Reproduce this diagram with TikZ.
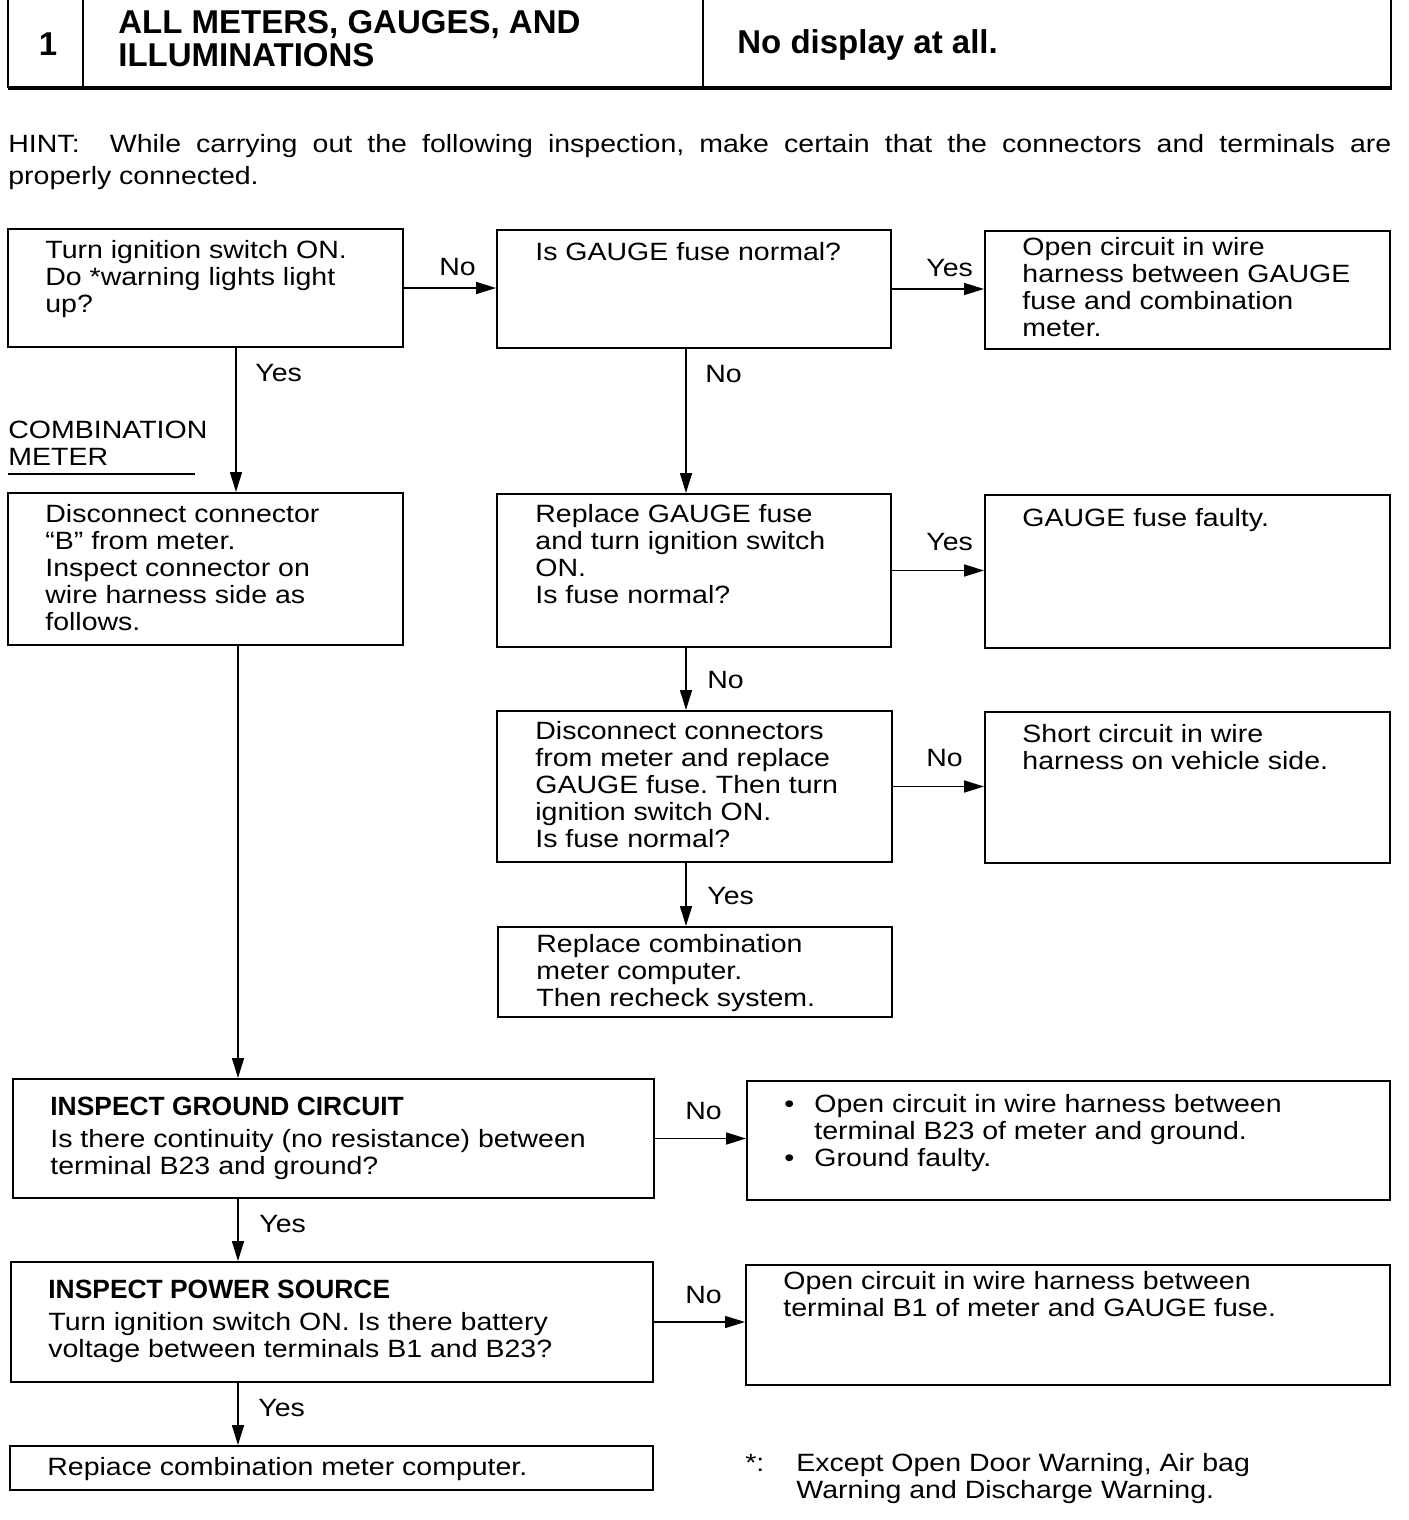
\documentclass[tikz,border=0pt]{standalone}
\usepackage{fontspec}
\setmainfont{Liberation Sans}[FakeStretch=1.14]
\newfontfamily\hdfont{Liberation Sans}
\usetikzlibrary{arrows.meta,fit}
\frenchspacing
\newcommand{\bodyf}{\fontsize{12.5}{13.5}\selectfont}
\newcommand{\ml}[1]{\begin{tabular}[t]{@{}l@{}}#1\end{tabular}}
\newcommand{\bul}{\makebox[15pt][l]{\textbullet}}
\newcommand{\nobul}{\makebox[15pt][l]{}}
\begin{document}
\begin{tikzpicture}[x=0.5pt,y=-0.5pt,
  box/.style={draw,line width=1pt,inner sep=0pt},
  txt/.style={inner sep=0pt,anchor=base west,font=\bodyf},
  hd/.style={inner sep=0pt,anchor=base west,font=\hdfont\bfseries\fontsize{16.5}{16.5}\selectfont},
  sub/.style={inner sep=0pt,anchor=base west,font=\hdfont\bfseries\fontsize{13.2}{13.2}\selectfont},
  arr/.style={line width=0.8pt,-{Triangle[length=10pt,width=6pt]}},
  rule/.style={line width=1pt}]
\useasboundingbox (0,0) rectangle (1408,1520);
\fill[white] (0,0) rectangle (1408,1520);

% header table
\draw[rule] (8,0) -- (8,88);
\draw[rule] (83,0) -- (83,88);
\draw[rule] (703,0) -- (703,88);
\draw[rule] (1391,0) -- (1391,88);
\draw[line width=1.6pt] (7.5,88) -- (1391.5,88);
\node[hd,anchor=base] (hnum) at (48,56) {1};
\node[hd] (htitle) at (118,34) {\ml{ALL METERS, GAUGES, AND\\ILLUMINATIONS}};
\node[hd] (hsym) at (737,54) {No display at all.};

% hint
\node[txt] (hint) at (8,152) {\parbox[t]{691.5pt}{\fontsize{12.5}{16.5}\selectfont
HINT:\ \ While carrying out the following inspection, make certain that the connectors and terminals are\linebreak properly connected.}};

% boxes
\node[box,fit={(8,229) (403,347)}] (A) {};
\node[box,fit={(497,230) (891,348)}] (B) {};
\node[box,fit={(985,231) (1390,349)}] (C) {};
\node[box,fit={(8,493) (403,645)}] (D) {};
\node[box,fit={(497,494) (891,647)}] (E) {};
\node[box,fit={(985,495) (1390,648)}] (F) {};
\node[box,fit={(497,711) (892,862)}] (G) {};
\node[box,fit={(985,712) (1390,863)}] (H) {};
\node[box,fit={(498,927) (892,1017)}] (I) {};
\node[box,fit={(13,1079) (654,1198)}] (J) {};
\node[box,fit={(747,1081) (1390,1200)}] (K) {};
\node[box,fit={(11,1262) (653,1382)}] (L) {};
\node[box,fit={(746,1265) (1390,1385)}] (M) {};
\node[box,fit={(10,1446) (653,1490)}] (N) {};

% box texts
\node[txt] (At) at (45,258) {\ml{Turn ignition switch ON.\\Do *warning lights light\\up?}};
\node[txt] (Bt) at (535,260) {Is GAUGE fuse normal?};
\node[txt] (Ct) at (1022,255) {\ml{Open circuit in wire\\harness between GAUGE\\fuse and combination\\meter.}};
\node[txt] (Dt) at (45,522) {\ml{Disconnect connector\\“B” from meter.\\Inspect connector on\\wire harness side as\\follows.}};
\node[txt] (Et) at (535,522) {\ml{Replace GAUGE fuse\\and turn ignition switch\\ON.\\Is fuse normal?}};
\node[txt] (Ft) at (1022,526) {GAUGE fuse faulty.};
\node[txt] (Gt) at (535,739) {\ml{Disconnect connectors\\from meter and replace\\GAUGE fuse. Then turn\\ignition switch ON.\\Is fuse normal?}};
\node[txt] (Ht) at (1022,742) {\ml{Short circuit in wire\\harness on vehicle side.}};
\node[txt] (It) at (536,952) {\ml{Replace combination\\meter computer.\\Then recheck system.}};
\node[sub] (Jh) at (50,1115) {INSPECT GROUND CIRCUIT};
\node[txt] (Jt) at (50,1147) {\ml{Is there continuity (no resistance) between\\terminal B23 and ground?}};
\node[txt] (Kt) at (784,1112) {\ml{\bul Open circuit in wire harness between\\\nobul terminal B23 of meter and ground.\\\bul Ground faulty.}};
\node[sub] (Lh) at (48,1298) {INSPECT POWER SOURCE};
\node[txt] (Lt) at (48,1330) {\ml{Turn ignition switch ON. Is there battery\\voltage between terminals B1 and B23?}};
\node[txt] (Mt) at (783,1289) {\ml{Open circuit in wire harness between\\terminal B1 of meter and GAUGE fuse.}};
\node[txt] (Nt) at (47,1475) {Repiace combination meter computer.};

% side label
\node[txt] (cm) at (8,438) {\ml{COMBINATION\\METER}};
\coordinate (u1) at (8,474);
\coordinate (u2) at (195,474);
\draw[line width=0.8pt] (u1) -- (u2);

% footnote
\node[txt] (fs) at (745,1471) {*:};
\node[txt] (ft) at (796,1471) {\ml{Except Open Door Warning, Air bag\\Warning and Discharge Warning.}};

% connector x positions
\coordinate (xa) at (236,0);
\coordinate (xb) at (686,0);
\coordinate (xd) at (238,0);

% connectors
\draw[arr] (A.east) -- (A.east -| B.west);
\draw[arr] (B.east) -- (B.east -| C.west);
\draw[arr] (E.east) -- (E.east -| F.west);
\draw[arr] (G.east) -- (G.east -| H.west);
\draw[arr] (J.east) -- (J.east -| K.west);
\draw[arr] (L.east) -- (L.east -| M.west);
\draw[arr] (A.south -| xa) -- (D.north -| xa);
\draw[arr] (B.south -| xb) -- (E.north -| xb);
\draw[arr] (E.south -| xb) -- (G.north -| xb);
\draw[arr] (G.south -| xb) -- (I.north -| xb);
\draw[arr] (D.south -| xd) -- (J.north -| xd);
\draw[arr] (J.south -| xd) -- (L.north -| xd);
\draw[arr] (L.south -| xd) -- (N.north -| xd);

% connector labels
\node[txt] (l1) at (439,275) {No};
\node[txt] (l2) at (926,276) {Yes};
\node[txt] (l3) at (255,381) {Yes};
\node[txt] (l4) at (705,382) {No};
\node[txt] (l5) at (926,550) {Yes};
\node[txt] (l6) at (707,688) {No};
\node[txt] (l7) at (926,766) {No};
\node[txt] (l8) at (707,904) {Yes};
\node[txt] (l9) at (685,1119) {No};
\node[txt] (l10) at (259,1232) {Yes};
\node[txt] (l11) at (685,1303) {No};
\node[txt] (l12) at (258,1416) {Yes};
\end{tikzpicture}
\end{document}
